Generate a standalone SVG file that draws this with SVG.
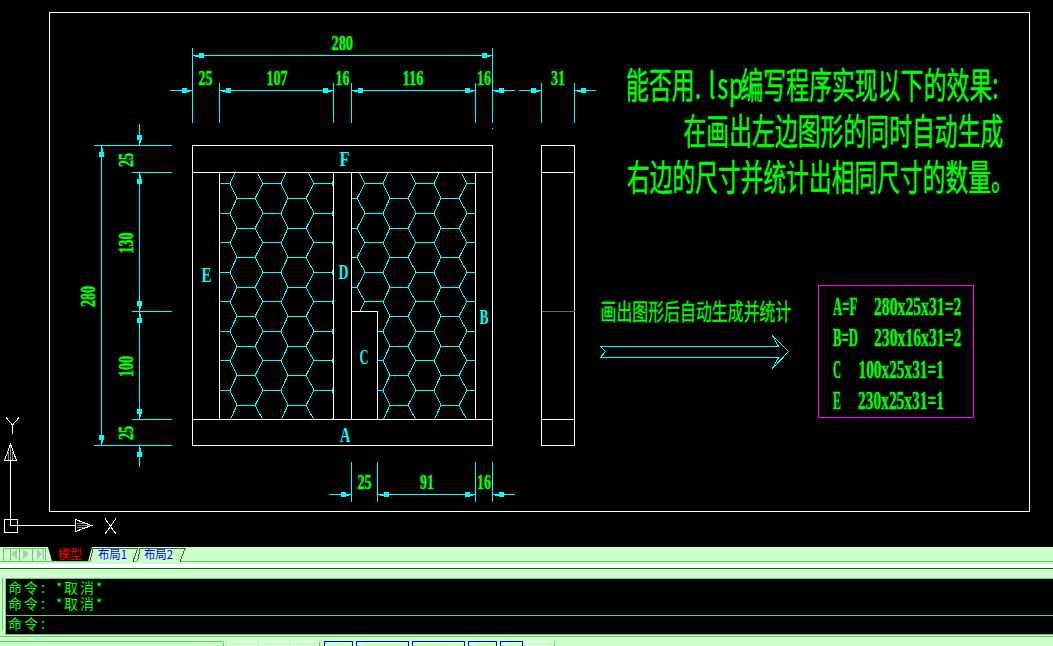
<svg xmlns="http://www.w3.org/2000/svg" width="1053" height="646" viewBox="0 0 1053 646">
<style>
.w{fill:none;stroke:#fff;stroke-width:1;shape-rendering:crispEdges}
.c{fill:none;stroke:#0ff;stroke-width:1;shape-rendering:crispEdges}
.h{fill:none;stroke:#0ff;stroke-width:1;shape-rendering:crispEdges}
.n{font-family:"Liberation Serif",serif;font-weight:700;font-size:22px;fill:#0f0;stroke:#0f0;stroke-width:.5}
.l{font-family:"Liberation Serif",serif;font-weight:700;font-size:20px;fill:#0ff}
.r{font-family:"Liberation Serif",serif;font-weight:700;font-size:26px;fill:#0f0;stroke:#0f0;stroke-width:.4}
.z{font-family:"Noto Sans CJK SC",sans-serif;font-size:36px;fill:#0f0;stroke:#0f0;stroke-width:.5}
.y{font-family:"Noto Sans CJK SC",sans-serif;font-size:23px;fill:#0f0;stroke:#0f0;stroke-width:.3}
.m{font-family:"Noto Sans CJK SC",monospace;font-size:14px;fill:#0f0}
.tab{font-family:"Noto Sans CJK SC",sans-serif;font-size:12px}
.g{fill:none;stroke:#6c6;stroke-width:1;shape-rendering:crispEdges}
.b{fill:#cfc;stroke:#00f;stroke-width:1;shape-rendering:crispEdges}
</style>
<defs>
<path id="a" d="M2.5-1H6V-2.5H11V2.5H6V1H2.5Z" fill="#0ff" shape-rendering="crispEdges"/>
<path id="band" class="h" d="M212 0H230M263 0H281M314 0H332M365 0H383M416 0H434M467 0H485M237 14.75H255M288 14.75H306M339 14.75H357M390 14.75H408M441 14.75H459M230 0L237 14.75L230 29.5M263 0L255 14.75L263 29.5M281 0L288 14.75L281 29.5M314 0L306 14.75L314 29.5M332 0L339 14.75L332 29.5M365 0L357 14.75L365 29.5M383 0L390 14.75L383 29.5M416 0L408 14.75L416 29.5M434 0L441 14.75L434 29.5M467 0L459 14.75L467 29.5"/>
<clipPath id="hc"><path d="M219.5 172.5H333.5V419.5H219.5ZM351.5 172.5H475.5V419.5H377.5V311.5H351.5Z"/></clipPath>
</defs>
<rect width="1053" height="646" fill="#000"/>
<rect id="frame" class="w" x="49.5" y="12.5" width="980" height="498.5"/>

<g id="hatch" clip-path="url(#hc)">
<use href="#band" y="154"/><use href="#band" y="183.5"/><use href="#band" y="213.5"/><use href="#band" y="242.5"/><use href="#band" y="272.5"/><use href="#band" y="301.5"/><use href="#band" y="331.5"/><use href="#band" y="360.5"/><use href="#band" y="390.5"/>
</g>

<g id="front-view">
<rect class="w" x="192.5" y="145.5" width="300" height="300"/>
<path class="w" d="M192.5 172.5H492.5M192.5 419.5H492.5M219.5 172.5V419.5M333.5 172.5V419.5M351.5 172.5V419.5M475.5 172.5V419.5M351.5 311.5H377.5V419.5"/>
</g>
<g id="side-view">
<rect class="w" x="541.5" y="145.5" width="33" height="300"/>
<path class="w" d="M541.5 172.5H574.5M541.5 419.5H574.5"/>
<path d="M541.5 311.5H574.5" fill="none" stroke="#666" shape-rendering="crispEdges"/>
</g>

<g id="part-labels">
<text class="l" x="339.5" y="166" textLength="10" lengthAdjust="spacingAndGlyphs">F</text>
<text class="l" x="201.5" y="281.5" textLength="10" lengthAdjust="spacingAndGlyphs">E</text>
<text class="l" x="338.5" y="279" textLength="10" lengthAdjust="spacingAndGlyphs">D</text>
<text class="l" x="479.5" y="324" textLength="9" lengthAdjust="spacingAndGlyphs">B</text>
<text class="l" x="359.5" y="363.5" textLength="9" lengthAdjust="spacingAndGlyphs">C</text>
<text class="l" x="340" y="441.5" textLength="10.5" lengthAdjust="spacingAndGlyphs">A</text>
</g>

<g id="connectors">
<path class="c" d="M192.5 48V123M492.5 48V123M192.5 55.5H492.5M219.5 83V123M333.5 83V123M351.5 83V123M475.5 83V123M541.5 83V123M574.5 83V123M170 90.5H192.5M219.5 90.5H333.5M351.5 90.5H475.5M492.5 90.5H515M519 90.5H541.5M574.5 90.5H596M492.5 128V129"/>
<path class="c" d="M94 145.5H172M132 172.5H172M132 311.5H172M132 419.5H172M94 445.5H172M101.5 145.5V445.5M139.5 124V145.5M139.5 172.5V419.5M139.5 445.5V467"/>
<path class="c" d="M351.5 462V502M377.5 462V502M475.5 462V502M492.5 462V502M329 494.5H351.5M377.5 494.5H475.5M492.5 494.5H515"/>
<use href="#a" transform="translate(192.5,55.5)"/><use href="#a" transform="translate(492.5,55.5) rotate(180)"/>
<use href="#a" transform="translate(192.5,90.5) rotate(180)"/><use href="#a" transform="translate(219.5,90.5)"/><use href="#a" transform="translate(333.5,90.5) rotate(180)"/><use href="#a" transform="translate(351.5,90.5)"/><use href="#a" transform="translate(475.5,90.5) rotate(180)"/><use href="#a" transform="translate(492.5,90.5)"/><use href="#a" transform="translate(541.5,90.5) rotate(180)"/><use href="#a" transform="translate(574.5,90.5)"/>
<use href="#a" transform="translate(101.5,145.5) rotate(90)"/><use href="#a" transform="translate(101.5,445.5) rotate(-90)"/>
<use href="#a" transform="translate(139.5,145.5) rotate(-90)"/><use href="#a" transform="translate(139.5,172.5) rotate(90)"/><use href="#a" transform="translate(139.5,311.5) rotate(-90)"/><use href="#a" transform="translate(139.5,311.5) rotate(90)"/><use href="#a" transform="translate(139.5,419.5) rotate(-90)"/><use href="#a" transform="translate(139.5,445.5) rotate(90)"/>
<use href="#a" transform="translate(351.5,494.5) rotate(180)"/><use href="#a" transform="translate(377.5,494.5)"/><use href="#a" transform="translate(475.5,494.5) rotate(180)"/><use href="#a" transform="translate(492.5,494.5)"/>
</g>

<g id="dimensions">
<text class="n" x="331.5" y="50" textLength="21.5" lengthAdjust="spacingAndGlyphs">280</text>
<text class="n" x="198.5" y="85" textLength="14" lengthAdjust="spacingAndGlyphs">25</text>
<text class="n" x="266.5" y="85" textLength="21" lengthAdjust="spacingAndGlyphs">107</text>
<text class="n" x="335.5" y="85" textLength="14" lengthAdjust="spacingAndGlyphs">16</text>
<text class="n" x="402.5" y="85" textLength="21" lengthAdjust="spacingAndGlyphs">116</text>
<text class="n" x="477" y="85" textLength="14" lengthAdjust="spacingAndGlyphs">16</text>
<text class="n" x="551" y="85" textLength="14" lengthAdjust="spacingAndGlyphs">31</text>
<text class="n" x="357.5" y="489" textLength="14" lengthAdjust="spacingAndGlyphs">25</text>
<text class="n" x="420" y="489" textLength="14" lengthAdjust="spacingAndGlyphs">91</text>
<text class="n" x="477" y="489" textLength="14" lengthAdjust="spacingAndGlyphs">16</text>
<text class="n" transform="translate(132.5,167) rotate(-90)" textLength="14" lengthAdjust="spacingAndGlyphs">25</text>
<text class="n" transform="translate(132.5,253.5) rotate(-90)" textLength="21" lengthAdjust="spacingAndGlyphs">130</text>
<text class="n" transform="translate(132.5,377) rotate(-90)" textLength="21" lengthAdjust="spacingAndGlyphs">100</text>
<text class="n" transform="translate(132.5,440) rotate(-90)" textLength="14" lengthAdjust="spacingAndGlyphs">25</text>
<text class="n" transform="translate(95,307) rotate(-90)" textLength="21" lengthAdjust="spacingAndGlyphs">280</text>
</g>

<g id="question">
<text class="z" transform="translate(626,99) scale(.636,1)" x="0 36 72 108 130 144 162 180 216 252 288 324 360 396 432 468 504 540 576">能否用.lsp编写程序实现以下的效果:</text>
<text class="z" transform="translate(683.5,145) scale(.635,1)">在画出左边图形的同时自动生成</text>
<text class="z" transform="translate(627,191) scale(.632,1)">右边的尺寸并统计出相同尺寸的数量。</text>
</g>

<g id="result-arrow">
<text class="y" transform="translate(600.5,319.5) scale(.692,1)">画出图形后自动生成并统计</text>
<path class="h" d="M600.5 346.5H778.5L772.5 335.5L788.5 351.5L772.5 368.5L778.5 357.5H600.5L605.5 351.5Z"/>
</g>

<g id="result-table">
<rect x="818.5" y="285.5" width="155" height="132" fill="none" stroke="#f0f" shape-rendering="crispEdges"/>
<text class="r" transform="translate(833,315) scale(.495,1)">A=F</text>
<text class="r" transform="translate(874,315) scale(.604,1)">280x25x31=2</text>
<text class="r" transform="translate(833,346) scale(.49,1)">B=D</text>
<text class="r" transform="translate(874,346) scale(.604,1)">230x16x31=2</text>
<text class="r" transform="translate(833,378) scale(.43,1)">C</text>
<text class="r" transform="translate(858.5,378) scale(.59,1)">100x25x31=1</text>
<text class="r" transform="translate(833,409) scale(.46,1)">E</text>
<text class="r" transform="translate(858,409) scale(.594,1)">230x25x31=1</text>
</g>

<g id="ucs-icon">
<path class="w" d="M4.5 519.5H17.5V532H4.5ZM10.5 460.5V525.5H75.5"/>
<path d="M10.5 445V460M8.5 452V460M12.5 452V460M77 525.5H90M77 523.5H85M77 527.5H85" fill="none" stroke="#888" shape-rendering="crispEdges"/>
<path class="w" d="M4.5 460.5H16.5L10.5 444ZM75.5 519.5V531.5L91.5 525.5Z"/>
<path d="M6 417.5L12.5 425L19 417.5M12.5 425V433.5M105 518.5L116 534M116 518.5L105 534" fill="none" stroke="#fff" shape-rendering="crispEdges"/>
</g>

<g id="status-ui">
<rect x="0" y="547" width="1053" height="99" fill="#cfc"/>
<path d="M48 547H92L88 561.5H52Z" fill="#000"/>
<path d="M0 561.5H1053" class="g"/>
<rect x="0" y="564" width="1053" height="4" fill="#fff"/>
<path d="M0 568.5H1053" stroke="#060" fill="none" shape-rendering="crispEdges"/>
<path class="g" d="M3.5 548V561M10.5 548V561M19.5 548V561M32.5 548V561M45.5 548V561M3.5 548H45.5"/>
<path d="M17 549V559L11 554ZM23 549V559L29 554ZM37 549V559L42 554ZM42.5 549H44V559H42.5Z" fill="#aca"/>
<path d="M90 561.5L93 548.5H137.5L133 561.5M137.5 561.5L140 548.5H185L180 561.5" fill="#cfc" stroke="#363" shape-rendering="crispEdges"/>
<text class="tab" x="58" y="559" fill="#f00" textLength="24" lengthAdjust="spacingAndGlyphs">模型</text>
<text class="tab" x="98" y="559" fill="#00f" textLength="29" lengthAdjust="spacingAndGlyphs">布局1</text>
<text class="tab" x="144" y="559" fill="#00f" textLength="29" lengthAdjust="spacingAndGlyphs">布局2</text>
<rect x="6" y="579" width="1047" height="55" fill="#000"/>
<path class="g" d="M2.5 578V630M5.5 578.5H1053M5.5 578.5V634.5H1053M6 615.5H1053M0 636.5H1053"/>
<text class="m" y="593" x="8 24 41 49 56 64 80 96">命令: *取消*</text>
<text class="m" y="609" x="8 24 41 49 56 64 80 96">命令: *取消*</text>
<text class="m" y="629" x="8 24 41">命令:</text>
<path class="g" d="M0 641.5H223M223.5 641.5V646M319.5 641.5V646M554.5 641.5V646"/>
<path d="M228.5 646V641.5H255.5M260.5 646V641.5H288.5M292.5 646V641.5H319M526.5 646V641.5H554" fill="none" stroke="#fff" shape-rendering="crispEdges"/>
<rect class="b" x="324.5" y="641.5" width="28" height="8"/>
<rect class="b" x="356.5" y="641.5" width="52" height="8"/>
<rect class="b" x="412.5" y="641.5" width="52" height="8"/>
<rect class="b" x="468.5" y="641.5" width="28" height="8"/>
<rect class="b" x="500.5" y="641.5" width="22" height="8"/>
</g>
</svg>
